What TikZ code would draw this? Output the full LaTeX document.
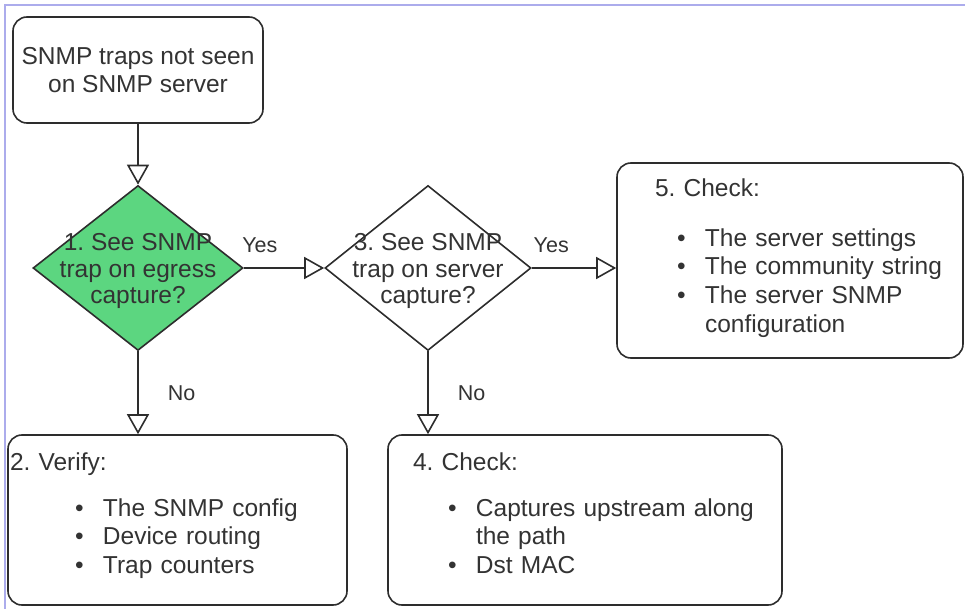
\documentclass[tikz,border=0pt]{standalone}
\usepackage{xcolor}
\usepackage{fontspec}
\setmainfont{Liberation Sans}
\usepackage{tikz}
\usetikzlibrary{shapes.geometric, arrows.meta, positioning, calc}
\definecolor{capgreen}{RGB}{92,214,128}
\definecolor{framelav}{RGB}{172,172,236}
\definecolor{linegray}{RGB}{45,45,45}
\newcommand{\bitem}[2][60pt]{\hspace*{#1}\makebox[28pt][l]{\textbullet}#2}

\begin{document}
\frenchspacing
\begin{tikzpicture}[x=1pt, y=-1pt,
	every node/.style={font=\fontsize{24.5}{28.7}\selectfont\frenchspacing, text=black!80},
	box/.style={draw=linegray, line width=1.6pt, rounded corners=14pt, inner sep=0pt},
	decision/.style={diamond, draw=linegray, line width=1.6pt, minimum height=165pt, inner sep=0pt},
	dtext/.style={align=center, inner sep=0pt, font=\fontsize{24.5}{26.5}\selectfont\frenchspacing},
	lbl/.style={inner sep=0pt, font=\fontsize{21.5}{24}\selectfont},
	arr/.style={draw=linegray, line width=1.6pt, -{Triangle[open, length=20pt, width=22pt]}}]

\useasboundingbox (0,0) rectangle (965,609);
\draw[framelav, line width=2pt] (5,609) -- (5,5) -- (965,5);

% start and the two questions
\node[box, minimum width=250pt, minimum height=106pt, align=center] (start) at (138,70) {SNMP traps not seen\\on SNMP server};

\node[decision, minimum width=210pt, fill=capgreen] (egresscap) at (138,268) {};
\node[dtext, yshift=-3pt] (egresstxt) at (egresscap.center) {1. See SNMP\\trap on egress\\capture?};

\node[decision, minimum width=206pt] (servercap) at (428,268) {};
\node[dtext, yshift=-3pt] (servertxt) at (servercap.center) {3. See SNMP\\trap on server\\capture?};

% outcome boxes
\node[box, minimum width=346pt, minimum height=195pt, text width=346pt, align=left] (checkserver) at (790,260.5)
	{\hspace*{38pt}5. Check:\\[21pt]
	\bitem{The server settings}\\
	\bitem{The community string}\\
	\bitem{The server SNMP}\\
	\hspace*{88pt}configuration\rule[-10pt]{0pt}{1pt}};

\node[box, minimum width=339pt, minimum height=170pt, text width=339pt, align=left] (verify) at (177.5,520)
	{\hspace*{2pt}2. Verify:\\[17pt]
	\bitem[67pt]{The SNMP config}\\
	\bitem[67pt]{Device routing}\\
	\bitem[67pt]{Trap counters}\rule[-14pt]{0pt}{1pt}};

\node[box, minimum width=394pt, minimum height=170pt, text width=394pt, align=left] (checkpath) at (585,520)
	{\hspace*{25pt}4. Check:\\[17pt]
	\bitem{Captures upstream along}\\
	\hspace*{88pt}the path\\
	\bitem{Dst MAC}\rule[-14pt]{0pt}{1pt}};

% connectors
\draw[arr] (start) -- (egresscap);
\draw[arr] (egresscap) -- node[lbl, pos=0.2, above=14pt] (yesone) {Yes} (servercap);
\draw[arr] (servercap.east) -- node[lbl, pos=0.23, above=14pt] (yestwo) {Yes} (servercap.east -| checkserver.west);
\draw[arr] (egresscap.south) -- node[lbl, right=29pt] (noone) {No} (egresscap.south |- verify.north);
\draw[arr] (servercap.south) -- node[lbl, right=29pt] (notwo) {No} (servercap.south |- checkpath.north);

\end{tikzpicture}
\end{document}
